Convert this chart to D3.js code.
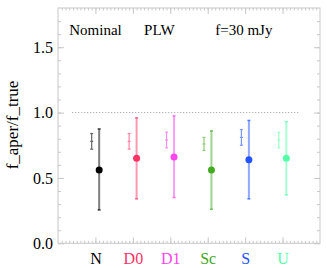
<!DOCTYPE html>
<html>
<head>
<meta charset="utf-8">
<script src="https://d3js.org/d3.v7.min.js"></script>
<style>
  body { margin: 0; background: #fff; }
  svg text { font-family: "Liberation Serif", "DejaVu Serif", serif; }
</style>
</head>
<body>
<svg id="vis" width="327" height="268"></svg>
<script>
// categories and colours
const categories = ["N", "D0", "D1", "Sc", "S", "U"];
const colors = ["#000000", "#ff3366", "#ff44ee", "#44aa22", "#2255ff", "#55ffaa"];

// wide bar (with filled dot) - median and range
const wideMid = [0.56, 0.65, 0.66, 0.56, 0.64, 0.65];
const wideLo  = [0.255, 0.34, 0.35, 0.26, 0.34, 0.37];
const wideHi  = [0.875, 0.96, 0.975, 0.86, 0.94, 0.93];

// narrow bar to the left
const narrowMid = [0.78, 0.78, 0.79, 0.76, 0.81, 0.79];
const narrowLo  = [0.72, 0.72, 0.73, 0.71, 0.75, 0.73];
const narrowHi  = [0.84, 0.84, 0.85, 0.81, 0.87, 0.85];

const yMajor = [0, 0.5, 1.0, 1.5];
const refLine = [0.38, 6.42]; // x extent of dotted line at 1.0

const headers = [
  {text: "Nominal", x: 0.3},
  {text: "PLW", x: 2.3},
  {text: "f=30 mJy", x: 4.2}
];

const W = 327, H = 268;
const mLeft = 58, mRight = 320, mTop = 8, mBottom = 243.3;

const svg = d3.select("#vis");

const x = d3.scaleLinear().domain([0, 7]).range([mLeft, mRight]);
const y = d3.scaleLinear().domain([0, 1.8]).range([mBottom, mTop]);

const frameCol = "#c8c8c8";

// frame
svg.append("rect")
  .attr("x", mLeft).attr("y", mTop)
  .attr("width", mRight - mLeft).attr("height", mBottom - mTop)
  .attr("fill", "none").attr("stroke", frameCol).attr("stroke-width", 1);

function styleAxis(g) {
  g.select(".domain").remove();
  g.selectAll("line").attr("stroke", frameCol);
}

const yMinor = d3.range(1, 18).map(d => d / 10);
const xMinor = d3.range(1, 70).map(d => d / 10);

// left axis
svg.append("g").attr("transform", `translate(${mLeft},0)`)
  .call(d3.axisLeft(y).tickValues(yMinor).tickSize(-3).tickFormat(""))
  .call(styleAxis);
svg.append("g").attr("transform", `translate(${mLeft},0)`)
  .call(d3.axisLeft(y).tickValues(yMajor).tickSize(-6).tickPadding(5).tickFormat(d3.format(".1f")))
  .call(styleAxis)
  .call(g => g.selectAll("text").attr("fill", "#000").style("font-size", "16px"));

// right axis
svg.append("g").attr("transform", `translate(${mRight},0)`)
  .call(d3.axisRight(y).tickValues(yMinor).tickSize(-3).tickFormat(""))
  .call(styleAxis);
svg.append("g").attr("transform", `translate(${mRight},0)`)
  .call(d3.axisRight(y).tickValues(yMajor).tickSize(-6).tickFormat(""))
  .call(styleAxis);

// bottom axis
svg.append("g").attr("transform", `translate(0,${mBottom})`)
  .call(d3.axisBottom(x).tickValues(xMinor).tickSize(-2.5).tickFormat(""))
  .call(styleAxis);
svg.append("g").attr("transform", `translate(0,${mBottom})`)
  .call(d3.axisBottom(x).tickValues(d3.range(1, 7)).tickSize(-6).tickPadding(9)
    .tickFormat(d => categories[d - 1]))
  .call(styleAxis)
  .call(g => g.selectAll("text")
    .attr("fill", d => colors[d - 1])
    .style("font-size", "16px"));

// top axis
svg.append("g").attr("transform", `translate(0,${mTop})`)
  .call(d3.axisTop(x).tickValues(xMinor).tickSize(-2.5).tickFormat(""))
  .call(styleAxis);
svg.append("g").attr("transform", `translate(0,${mTop})`)
  .call(d3.axisTop(x).tickValues(d3.range(1, 7)).tickSize(-6).tickFormat(""))
  .call(styleAxis);

// y title
svg.append("text")
  .attr("transform", `translate(18,${(80 + 170) / 2}) rotate(-90)`)
  .attr("text-anchor", "middle")
  .style("font-size", "17px")
  .text("f_aper/f_true");

// header texts
svg.selectAll(".hdr").data(headers).enter().append("text")
  .attr("class", "hdr")
  .attr("x", d => x(d.x))
  .attr("y", 35)
  .style("font-size", "15px")
  .text(d => d.text);

// dotted reference line
svg.append("line")
  .attr("x1", x(refLine[0])).attr("x2", x(refLine[1]))
  .attr("y1", y(1)).attr("y2", y(1))
  .attr("stroke", "#999").attr("stroke-width", 1)
  .attr("stroke-dasharray", "1,2");

const off = 0.1;
const idx = d3.range(categories.length);

// narrow bars
const nb = svg.append("g").selectAll("g").data(idx).enter().append("g")
  .attr("stroke", i => colors[i]).attr("opacity", 0.6);
nb.append("line")
  .attr("x1", i => x(i + 1 - off)).attr("x2", i => x(i + 1 - off))
  .attr("y1", i => y(narrowLo[i])).attr("y2", i => y(narrowHi[i]))
  .attr("stroke-width", 1.2);
[narrowLo, narrowHi, narrowMid].forEach(arr => {
  nb.append("line")
    .attr("x1", i => x(i + 1 - off) - 1.5).attr("x2", i => x(i + 1 - off) + 1.5)
    .attr("y1", i => y(arr[i])).attr("y2", i => y(arr[i]))
    .attr("stroke-width", 1.2);
});

// wide bars
const wb = svg.append("g").selectAll("g").data(idx).enter().append("g");
wb.append("line")
  .attr("x1", i => x(i + 1 + off)).attr("x2", i => x(i + 1 + off))
  .attr("y1", i => y(wideLo[i])).attr("y2", i => y(wideHi[i]))
  .attr("stroke", i => colors[i]).attr("stroke-width", 2)
  .attr("opacity", 0.5);
[wideLo, wideHi].forEach(arr => {
  wb.append("line")
    .attr("x1", i => x(i + 1 + off) - 1.5).attr("x2", i => x(i + 1 + off) + 1.5)
    .attr("y1", i => y(arr[i])).attr("y2", i => y(arr[i]))
    .attr("stroke", i => colors[i]).attr("stroke-width", 1.5)
    .attr("opacity", 0.7);
});
wb.append("circle")
  .attr("cx", i => x(i + 1 + off))
  .attr("cy", i => y(wideMid[i]))
  .attr("r", 3.5)
  .attr("fill", i => colors[i]);
</script>
</body>
</html>
